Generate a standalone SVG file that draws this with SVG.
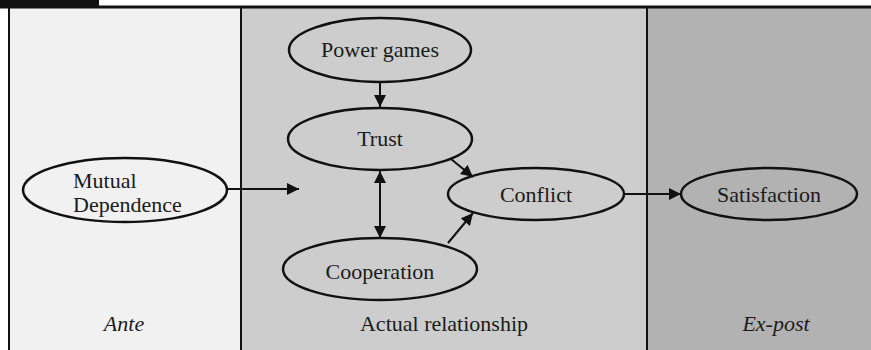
<svg xmlns="http://www.w3.org/2000/svg" width="871" height="350" viewBox="0 0 871 350">
<defs>
<style>
.node{fill:none;stroke:#111;stroke-width:2.5}
text{font-family:'Liberation Serif','DejaVu Serif',serif;font-size:22px;fill:#1a1a1a}
.c{text-anchor:middle}
.it{font-style:italic}
.con{stroke:#111;stroke-width:2;fill:none}
</style>
<marker id="ah" viewBox="0 0 10 10" refX="10" refY="5" markerWidth="6" markerHeight="6" markerUnits="strokeWidth" orient="auto-start-reverse">
<path d="M0,0 L10,5 L0,10 z" fill="#111"/>
</marker>
</defs>
<rect x="0" y="0" width="871" height="350" fill="#ffffff"/>
<rect x="0" y="0" width="99" height="6" fill="#111"/>
<g id="panels">
<rect x="9" y="8" width="232" height="342" fill="#f1f1f1"/>
<rect x="241" y="8" width="406" height="342" fill="#cdcdcd"/>
<rect x="647" y="8" width="224" height="342" fill="#b2b2b2"/>
<line x1="0" y1="7" x2="871" y2="7" stroke="#111" stroke-width="3"/>
<line x1="9" y1="6" x2="9" y2="350" stroke="#111" stroke-width="2"/>
<line x1="241" y1="7" x2="241" y2="350" stroke="#111" stroke-width="2"/>
<line x1="647" y1="7" x2="647" y2="350" stroke="#111" stroke-width="2"/>
<text class="c it" x="124" y="331">Ante</text>
<text class="c" x="444" y="331">Actual relationship</text>
<text class="c it" x="776" y="331">Ex-post</text>
</g>
<g id="connectors">
<line class="con" x1="380" y1="82" x2="380" y2="107" marker-end="url(#ah)"/>
<line class="con" x1="380" y1="171" x2="380" y2="238" marker-start="url(#ah)" marker-end="url(#ah)"/>
<line class="con" x1="227" y1="189" x2="299" y2="189" marker-end="url(#ah)"/>
<line class="con" x1="451" y1="159" x2="473" y2="177" marker-end="url(#ah)"/>
<line class="con" x1="448" y1="243" x2="473" y2="213" marker-end="url(#ah)"/>
<line class="con" x1="624" y1="194" x2="681" y2="194" marker-end="url(#ah)"/>
</g>
<g id="mutual">
<ellipse class="node" cx="125" cy="190" rx="102" ry="32"/>
<text x="73" y="188">Mutual</text>
<text x="73" y="212">Dependence</text>
</g>
<g id="power">
<ellipse class="node" cx="380" cy="50" rx="91" ry="32"/>
<text class="c" x="380" y="57">Power games</text>
</g>
<g id="trust">
<ellipse class="node" cx="380" cy="139" rx="92" ry="31"/>
<text class="c" x="380" y="146">Trust</text>
</g>
<g id="cooperation">
<ellipse class="node" cx="380" cy="269" rx="97" ry="31"/>
<text class="c" x="380" y="279">Cooperation</text>
</g>
<g id="conflict">
<ellipse class="node" cx="536" cy="194" rx="88" ry="26"/>
<text class="c" x="536" y="202">Conflict</text>
</g>
<g id="satisfaction">
<ellipse class="node" cx="769" cy="194" rx="88" ry="26"/>
<text class="c" x="769" y="202">Satisfaction</text>
</g>
</svg>
